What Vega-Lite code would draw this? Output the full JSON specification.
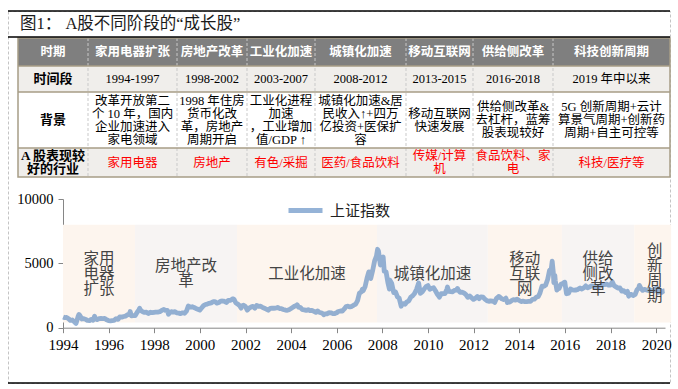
{
"$schema": "https://vega.github.io/schema/vega-lite/v6.json",
"width": 662, "height": 372,
"autosize": "none",
"padding": {"left": 8, "top": 11, "right": 8, "bottom": 6},
"background": "white",
"config": {"view": {"stroke": "#c4c4c4", "strokeDash": [3, 2], "strokeWidth": 1}, "font": "Liberation Serif, Noto Sans CJK SC"},
"datasets": {
"cells": [
{"r":0,"c":0,"t":"时期"},{"r":0,"c":1,"t":"家用电器扩张"},{"r":0,"c":2,"t":"房地产改革"},{"r":0,"c":3,"t":"工业化加速"},{"r":0,"c":4,"t":"城镇化加速"},{"r":0,"c":5,"t":"移动互联网"},{"r":0,"c":6,"t":"供给侧改革"},{"r":0,"c":7,"t":"科技创新周期"},
{"r":1,"c":0,"t":"时间段"},{"r":1,"c":1,"t":"1994-1997"},{"r":1,"c":2,"t":"1998-2002"},{"r":1,"c":3,"t":"2003-2007"},{"r":1,"c":4,"t":"2008-2012"},{"r":1,"c":5,"t":"2013-2015"},{"r":1,"c":6,"t":"2016-2018"},{"r":1,"c":7,"t":"2019 年中以来"},
{"r":2,"c":0,"t":"背景"},
{"r":2,"c":1,"t":["改革开放第二","个 10 年，国内","企业加速进入","家电领域"]},
{"r":2,"c":2,"t":["1998 年住房","货币化改","革，房地产","周期开启"]},
{"r":2,"c":3,"t":["工业化进程","加速","，工业增加","值/GDP ↑"]},
{"r":2,"c":4,"t":["城镇化加速&居","民收入↑+四万","亿投资+医保扩","容"]},
{"r":2,"c":5,"t":["移动互联网","快速发展"]},
{"r":2,"c":6,"t":["供给侧改革&","去杠杆，蓝筹","股表现较好"]},
{"r":2,"c":7,"t":["5G 创新周期+云计","算景气周期+创新药","周期+自主可控等"]},
{"r":3,"c":0,"t":["A 股表现较","好的行业"]},{"r":3,"c":1,"t":"家用电器"},{"r":3,"c":2,"t":"房地产"},{"r":3,"c":3,"t":"有色/采掘"},{"r":3,"c":4,"t":"医药/食品饮料"},{"r":3,"c":5,"t":["传媒/计算","机"]},{"r":3,"c":6,"t":["食品饮料、家","电"]},{"r":3,"c":7,"t":"科技/医疗等"}
],
"phases": [
{"phase":"家用电器扩张","start":"1994-01-01","end":"1997-02-28","label_date":"1995-07-31","label":["家用","电器","扩张"]},
{"phase":"房地产改革","start":"1997-02-28","end":"2001-08-18","label_date":"1999-05-25","label":["房地产改","革"]},
{"phase":"工业化加速","start":"2001-08-18","end":"2007-10-08","label_date":"2004-09-12","label":"工业化加速"},
{"phase":"城镇化加速","start":"2007-10-08","end":"2012-08-15","label_date":"2010-03-12","label":"城镇化加速"},
{"phase":"移动互联网","start":"2012-08-15","end":"2015-11-15","label_date":"2014-03-31","label":["移动","互联","网"]},
{"phase":"供给侧改革","start":"2015-11-15","end":"2019-01-15","label_date":"2017-06-15","label":["供给","侧改","革"]},
{"phase":"创新周期","start":"2019-01-15","end":"2020-08-28","label_date":"2019-12-10","label":["创","新","周","期"]}
],
"sse": [
{"date":"1994-01-03","close":833},{"date":"1994-01-31","close":778},{"date":"1994-02-28","close":792},{"date":"1994-03-31","close":694},{"date":"1994-04-29","close":568},{"date":"1994-05-31","close":597},{"date":"1994-06-30","close":468},{"date":"1994-07-29","close":333},{"date":"1994-08-31","close":872},{"date":"1994-09-13","close":1033},{"date":"1994-09-30","close":940},{"date":"1994-10-31","close":677},{"date":"1994-11-30","close":705},{"date":"1994-12-30","close":648},
{"date":"1995-01-27","close":562},{"date":"1995-02-28","close":550},{"date":"1995-03-31","close":647},{"date":"1995-04-28","close":581},{"date":"1995-05-22","close":897},{"date":"1995-05-31","close":700},{"date":"1995-06-30","close":630},{"date":"1995-07-31","close":710},{"date":"1995-08-31","close":716},{"date":"1995-09-29","close":704},{"date":"1995-10-31","close":716},{"date":"1995-11-30","close":613},{"date":"1995-12-29","close":555},
{"date":"1996-01-31","close":537},{"date":"1996-02-29","close":553},{"date":"1996-03-29","close":570},{"date":"1996-04-30","close":697},{"date":"1996-05-31","close":644},{"date":"1996-06-28","close":846},{"date":"1996-07-31","close":820},{"date":"1996-08-30","close":868},{"date":"1996-09-30","close":905},{"date":"1996-10-31","close":1011},{"date":"1996-11-29","close":1029},{"date":"1996-12-11","close":1258},{"date":"1996-12-31","close":917},
{"date":"1997-01-31","close":935},{"date":"1997-02-28","close":936},{"date":"1997-03-31","close":1184},{"date":"1997-04-30","close":1381},{"date":"1997-05-12","close":1510},{"date":"1997-05-30","close":1341},{"date":"1997-06-30","close":1245},{"date":"1997-07-31","close":1186},{"date":"1997-08-29","close":1204},{"date":"1997-09-30","close":1097},{"date":"1997-10-31","close":1200},{"date":"1997-11-28","close":1166},{"date":"1997-12-31","close":1194},
{"date":"1998-01-23","close":1209},{"date":"1998-02-27","close":1215},{"date":"1998-03-31","close":1245},{"date":"1998-04-30","close":1343},{"date":"1998-05-29","close":1411},{"date":"1998-06-04","close":1422},{"date":"1998-06-30","close":1339},{"date":"1998-07-31","close":1336},{"date":"1998-08-17","close":1043},{"date":"1998-08-31","close":1150},{"date":"1998-09-30","close":1243},{"date":"1998-10-30","close":1217},{"date":"1998-11-30","close":1248},{"date":"1998-12-31","close":1147},
{"date":"1999-01-29","close":1134},{"date":"1999-02-26","close":1091},{"date":"1999-03-31","close":1159},{"date":"1999-04-30","close":1120},{"date":"1999-05-31","close":1280},{"date":"1999-06-30","close":1690},{"date":"1999-07-30","close":1601},{"date":"1999-08-31","close":1627},{"date":"1999-09-30","close":1568},{"date":"1999-10-29","close":1498},{"date":"1999-11-30","close":1432},{"date":"1999-12-30","close":1367},
{"date":"2000-01-28","close":1535},{"date":"2000-02-29","close":1714},{"date":"2000-03-31","close":1800},{"date":"2000-04-28","close":1836},{"date":"2000-05-31","close":1895},{"date":"2000-06-30","close":1928},{"date":"2000-07-31","close":2023},{"date":"2000-08-31","close":2022},{"date":"2000-09-29","close":1911},{"date":"2000-10-31","close":1961},{"date":"2000-11-30","close":2071},{"date":"2000-12-29","close":2073},
{"date":"2001-01-19","close":2066},{"date":"2001-02-28","close":1960},{"date":"2001-03-30","close":2113},{"date":"2001-04-30","close":2120},{"date":"2001-05-31","close":2215},{"date":"2001-06-14","close":2245},{"date":"2001-06-29","close":2219},{"date":"2001-07-31","close":1920},{"date":"2001-08-31","close":1834},{"date":"2001-09-28","close":1717},{"date":"2001-10-22","close":1520},{"date":"2001-10-31","close":1690},{"date":"2001-11-30","close":1750},{"date":"2001-12-31","close":1646},
{"date":"2002-01-29","close":1360},{"date":"2002-02-28","close":1525},{"date":"2002-03-29","close":1603},{"date":"2002-04-30","close":1660},{"date":"2002-05-31","close":1515},{"date":"2002-06-28","close":1733},{"date":"2002-07-31","close":1651},{"date":"2002-08-30","close":1670},{"date":"2002-09-27","close":1581},{"date":"2002-10-31","close":1507},{"date":"2002-11-29","close":1442},{"date":"2002-12-31","close":1358},
{"date":"2003-01-30","close":1500},{"date":"2003-02-28","close":1512},{"date":"2003-03-31","close":1510},{"date":"2003-04-30","close":1521},{"date":"2003-05-30","close":1577},{"date":"2003-06-30","close":1487},{"date":"2003-07-31","close":1477},{"date":"2003-08-29","close":1421},{"date":"2003-09-30","close":1368},{"date":"2003-10-31","close":1349},{"date":"2003-11-28","close":1397},{"date":"2003-12-31","close":1497},
{"date":"2004-01-30","close":1590},{"date":"2004-02-27","close":1676},{"date":"2004-03-31","close":1742},{"date":"2004-04-07","close":1783},{"date":"2004-04-30","close":1595},{"date":"2004-05-31","close":1555},{"date":"2004-06-30","close":1399},{"date":"2004-07-30","close":1386},{"date":"2004-08-31","close":1342},{"date":"2004-09-30","close":1396},{"date":"2004-10-29","close":1320},{"date":"2004-11-30","close":1340},{"date":"2004-12-31","close":1267},
{"date":"2005-01-31","close":1191},{"date":"2005-02-28","close":1306},{"date":"2005-03-31","close":1181},{"date":"2005-04-29","close":1159},{"date":"2005-05-31","close":1061},{"date":"2005-06-06","close":998},{"date":"2005-06-30","close":1081},{"date":"2005-07-29","close":1083},{"date":"2005-08-31","close":1163},{"date":"2005-09-30","close":1155},{"date":"2005-10-31","close":1092},{"date":"2005-11-30","close":1100},{"date":"2005-12-30","close":1161},
{"date":"2006-01-25","close":1258},{"date":"2006-02-28","close":1299},{"date":"2006-03-31","close":1299},{"date":"2006-04-28","close":1441},{"date":"2006-05-31","close":1642},{"date":"2006-06-30","close":1672},{"date":"2006-07-31","close":1612},{"date":"2006-08-31","close":1658},{"date":"2006-09-29","close":1753},{"date":"2006-10-31","close":1838},{"date":"2006-11-30","close":2099},{"date":"2006-12-29","close":2675},
{"date":"2007-01-31","close":2786},{"date":"2007-02-16","close":2998},{"date":"2007-02-28","close":2881},{"date":"2007-03-30","close":3184},{"date":"2007-04-30","close":3841},{"date":"2007-05-29","close":4335},{"date":"2007-05-31","close":4110},{"date":"2007-06-29","close":3821},{"date":"2007-07-31","close":4472},{"date":"2007-08-31","close":5219},{"date":"2007-09-28","close":5553},{"date":"2007-10-16","close":6092},{"date":"2007-10-31","close":5955},{"date":"2007-11-30","close":4871},{"date":"2007-12-28","close":5262},
{"date":"2008-01-14","close":5497},{"date":"2008-01-31","close":4383},{"date":"2008-02-29","close":4348},{"date":"2008-03-31","close":3473},{"date":"2008-04-22","close":3000},{"date":"2008-04-30","close":3693},{"date":"2008-05-30","close":3433},{"date":"2008-06-30","close":2736},{"date":"2008-07-31","close":2776},{"date":"2008-08-29","close":2397},{"date":"2008-09-26","close":2294},{"date":"2008-10-28","close":1665},{"date":"2008-10-31","close":1729},{"date":"2008-11-28","close":1871},{"date":"2008-12-31","close":1821},
{"date":"2009-01-23","close":1991},{"date":"2009-02-27","close":2082},{"date":"2009-03-31","close":2373},{"date":"2009-04-30","close":2477},{"date":"2009-05-27","close":2633},{"date":"2009-06-30","close":2959},{"date":"2009-07-31","close":3412},{"date":"2009-08-04","close":3471},{"date":"2009-08-31","close":2667},{"date":"2009-09-30","close":2779},{"date":"2009-10-30","close":2996},{"date":"2009-11-30","close":3195},{"date":"2009-12-31","close":3277},
{"date":"2010-01-29","close":2989},{"date":"2010-02-26","close":3051},{"date":"2010-03-31","close":3110},{"date":"2010-04-30","close":2871},{"date":"2010-05-31","close":2592},{"date":"2010-06-30","close":2398},{"date":"2010-07-02","close":2373},{"date":"2010-07-30","close":2638},{"date":"2010-08-31","close":2639},{"date":"2010-09-30","close":2656},{"date":"2010-10-29","close":2979},{"date":"2010-11-08","close":3159},{"date":"2010-11-30","close":2820},{"date":"2010-12-31","close":2808},
{"date":"2011-01-31","close":2791},{"date":"2011-02-28","close":2905},{"date":"2011-03-31","close":2928},{"date":"2011-04-18","close":3050},{"date":"2011-04-29","close":2911},{"date":"2011-05-31","close":2743},{"date":"2011-06-30","close":2762},{"date":"2011-07-29","close":2701},{"date":"2011-08-31","close":2568},{"date":"2011-09-30","close":2359},{"date":"2011-10-31","close":2468},{"date":"2011-11-30","close":2333},{"date":"2011-12-30","close":2199},
{"date":"2012-01-31","close":2292},{"date":"2012-02-29","close":2428},{"date":"2012-03-30","close":2262},{"date":"2012-04-27","close":2397},{"date":"2012-05-31","close":2373},{"date":"2012-06-29","close":2225},{"date":"2012-07-31","close":2103},{"date":"2012-08-31","close":2047},{"date":"2012-09-28","close":2086},{"date":"2012-10-31","close":2069},{"date":"2012-11-30","close":1980},{"date":"2012-12-03","close":1959},{"date":"2012-12-31","close":2269},
{"date":"2013-01-31","close":2385},{"date":"2013-02-06","close":2432},{"date":"2013-02-28","close":2366},{"date":"2013-03-29","close":2237},{"date":"2013-04-26","close":2178},{"date":"2013-05-31","close":2301},{"date":"2013-06-25","close":1950},{"date":"2013-06-28","close":1979},{"date":"2013-07-31","close":1994},{"date":"2013-08-30","close":2098},{"date":"2013-09-30","close":2175},{"date":"2013-10-31","close":2141},{"date":"2013-11-29","close":2220},{"date":"2013-12-31","close":2116},
{"date":"2014-01-30","close":2033},{"date":"2014-02-28","close":2056},{"date":"2014-03-31","close":2033},{"date":"2014-04-30","close":2026},{"date":"2014-05-30","close":2039},{"date":"2014-06-30","close":2048},{"date":"2014-07-31","close":2202},{"date":"2014-08-29","close":2217},{"date":"2014-09-30","close":2364},{"date":"2014-10-31","close":2420},{"date":"2014-11-28","close":2683},{"date":"2014-12-31","close":3235},
{"date":"2015-01-30","close":3210},{"date":"2015-02-27","close":3310},{"date":"2015-03-31","close":3748},{"date":"2015-04-30","close":4442},{"date":"2015-05-29","close":4612},{"date":"2015-06-12","close":5166},{"date":"2015-06-30","close":4277},{"date":"2015-07-08","close":3507},{"date":"2015-07-24","close":4070},{"date":"2015-07-31","close":3664},{"date":"2015-08-26","close":2927},{"date":"2015-08-31","close":3206},{"date":"2015-09-30","close":3053},{"date":"2015-10-30","close":3383},{"date":"2015-11-30","close":3446},{"date":"2015-12-31","close":3539},
{"date":"2016-01-27","close":2638},{"date":"2016-02-29","close":2688},{"date":"2016-03-31","close":3004},{"date":"2016-04-29","close":2938},{"date":"2016-05-31","close":2917},{"date":"2016-06-30","close":2930},{"date":"2016-07-29","close":2979},{"date":"2016-08-31","close":3085},{"date":"2016-09-30","close":3005},{"date":"2016-10-31","close":3100},{"date":"2016-11-30","close":3250},{"date":"2016-12-30","close":3104},
{"date":"2017-01-26","close":3159},{"date":"2017-02-28","close":3242},{"date":"2017-03-31","close":3223},{"date":"2017-04-28","close":3155},{"date":"2017-05-31","close":3117},{"date":"2017-06-30","close":3192},{"date":"2017-07-31","close":3273},{"date":"2017-08-31","close":3361},{"date":"2017-09-29","close":3349},{"date":"2017-10-31","close":3393},{"date":"2017-11-30","close":3317},{"date":"2017-12-29","close":3307},
{"date":"2018-01-29","close":3559},{"date":"2018-02-28","close":3259},{"date":"2018-03-30","close":3169},{"date":"2018-04-27","close":3082},{"date":"2018-05-31","close":3095},{"date":"2018-06-29","close":2847},{"date":"2018-07-31","close":2876},{"date":"2018-08-31","close":2725},{"date":"2018-09-28","close":2821},{"date":"2018-10-19","close":2449},{"date":"2018-10-31","close":2603},{"date":"2018-11-30","close":2588},{"date":"2018-12-28","close":2494},
{"date":"2019-01-31","close":2585},{"date":"2019-02-28","close":2941},{"date":"2019-03-29","close":3091},{"date":"2019-04-08","close":3288},{"date":"2019-04-30","close":3078},{"date":"2019-05-31","close":2899},{"date":"2019-06-28","close":2979},{"date":"2019-07-31","close":2933},{"date":"2019-08-30","close":2886},{"date":"2019-09-30","close":2905},{"date":"2019-10-31","close":2929},{"date":"2019-11-29","close":2872},{"date":"2019-12-31","close":3050},
{"date":"2020-01-14","close":3107},{"date":"2020-02-03","close":2746},{"date":"2020-02-28","close":2880},{"date":"2020-03-31","close":2750},{"date":"2020-04-30","close":2860},{"date":"2020-05-15","close":2868}
]
},
"resolve": {"scale": {"x": "independent", "y": "independent"}},
"layer": [
{
"layer": [
{"data": {"values": [{}]}, "mark": {"type": "rect", "fill": "#7f7f7f"},
 "encoding": {"x": {"datum": 0, "type": "quantitative", "axis": null, "scale": {"type": "linear", "domain": [-1,0,1,2,3,4,5,6,7,8], "range": [0,10,80,169,239,307,398,465,545,662], "nice": false, "zero": false}}, "x2": {"datum": 8},
  "y": {"datum": 0, "type": "quantitative", "axis": null, "scale": {"type": "linear", "domain": [-2,-1,0,1,2,3,4,5], "range": [0,26,27,55,81,137,166,372], "nice": false, "zero": false}}, "y2": {"datum": 1}}},
{"data": {"values": [{}]}, "mark": {"type": "rect", "fill": "#f0eeeb"},
 "encoding": {"x": {"datum": 0, "type": "quantitative", "axis": null}, "x2": {"datum": 8}, "y": {"datum": 1, "type": "quantitative", "axis": null}, "y2": {"datum": 2}}},
{"data": {"values": [{}]}, "mark": {"type": "rect", "fill": "#f0eeeb"},
 "encoding": {"x": {"datum": 0, "type": "quantitative", "axis": null}, "x2": {"datum": 8}, "y": {"datum": 3, "type": "quantitative", "axis": null}, "y2": {"datum": 4}}},
{"data": {"values": [{"sep":1},{"sep":2},{"sep":3},{"sep":4},{"sep":5},{"sep":6},{"sep":7}]}, "mark": {"type": "rule", "stroke": "#c9c9c9", "strokeDash": [3, 2], "strokeWidth": 1},
 "encoding": {"x": {"field": "sep", "type": "quantitative", "axis": null}, "y": {"datum": 0, "type": "quantitative", "axis": null}, "y2": {"datum": 4}}},
{"data": {"values": [{"line":1},{"line":2},{"line":3}]}, "mark": {"type": "rule", "stroke": "#a79d86", "strokeWidth": 1.5},
 "encoding": {"y": {"field": "line", "type": "quantitative", "axis": null}, "x": {"datum": 0, "type": "quantitative", "axis": null}, "x2": {"datum": 8}}},
{"data": {"values": [{}]}, "mark": {"type": "rect", "fillOpacity": 0, "stroke": "#a79d86", "strokeWidth": 1.5},
 "encoding": {"x": {"datum": 0, "type": "quantitative", "axis": null}, "x2": {"datum": 8}, "y": {"datum": 0, "type": "quantitative", "axis": null}, "y2": {"datum": 4}}},
{"data": {"values": [{"edge":-2},{"edge":-1},{"edge":5}]}, "mark": {"type": "rule", "stroke": "#000000", "strokeWidth": 1.3},
 "encoding": {"y": {"field": "edge", "type": "quantitative", "axis": null}, "x": {"datum": -1, "type": "quantitative", "axis": null}, "x2": {"datum": 8}}}
]
},
{
"data": {"name": "cells"},
"layer": [
{"transform": [{"filter": "datum.r == 0"}], "mark": {"type": "text", "fill": "#ffffff", "fontWeight": "bold", "fontSize": 12.5, "baseline": "middle", "align": "center", "lineHeight": 13},
 "encoding": {"x": {"field": "c", "type": "quantitative", "axis": null, "scale": {"type": "linear", "domain": [-1,0,1,2,3,4,5,6,7], "range": [12,45,124.5,204,273,352.5,431.5,505,603.5], "nice": false, "zero": false}},
  "y": {"field": "r", "type": "quantitative", "axis": null, "scale": {"type": "linear", "domain": [-1,0,1,2,3], "range": [13,41,68,109,151.5], "nice": false, "zero": false}},
  "text": {"field": "t", "type": "nominal"}}},
{"transform": [{"filter": "datum.r > 0 && datum.c == 0 && !isArray(datum.t)"}], "mark": {"type": "text", "fill": "#000000", "fontWeight": "bold", "fontSize": 13, "baseline": "middle", "align": "center", "lineHeight": 13},
 "encoding": {"x": {"field": "c", "type": "quantitative", "axis": null}, "y": {"field": "r", "type": "quantitative", "axis": null}, "text": {"field": "t", "type": "nominal"}}},
{"transform": [{"filter": "datum.r > 0 && datum.c == 0 && isArray(datum.t)"}], "mark": {"type": "text", "fill": "#000000", "fontWeight": "bold", "fontSize": 13, "baseline": "middle", "align": "center", "lineHeight": 13, "dy": -6.5},
 "encoding": {"x": {"field": "c", "type": "quantitative", "axis": null}, "y": {"field": "r", "type": "quantitative", "axis": null}, "text": {"field": "t", "type": "nominal"}}},
{"transform": [{"filter": "datum.r == 1 && datum.c > 0"}], "mark": {"type": "text", "fill": "#000000", "fontSize": 12.5, "baseline": "middle", "align": "center", "lineHeight": 13},
 "encoding": {"x": {"field": "c", "type": "quantitative", "axis": null}, "y": {"field": "r", "type": "quantitative", "axis": null}, "text": {"field": "t", "type": "nominal"}}},
{"transform": [{"filter": "datum.r == 2 && datum.c > 0 && isArray(datum.t) && length(datum.t) == 2"}], "mark": {"type": "text", "fill": "#000000", "fontSize": 12.5, "baseline": "middle", "align": "center", "lineHeight": 13, "dy": -6.5},
 "encoding": {"x": {"field": "c", "type": "quantitative", "axis": null}, "y": {"field": "r", "type": "quantitative", "axis": null}, "text": {"field": "t", "type": "nominal"}}},
{"transform": [{"filter": "datum.r == 2 && datum.c > 0 && isArray(datum.t) && length(datum.t) == 3"}], "mark": {"type": "text", "fill": "#000000", "fontSize": 12.5, "baseline": "middle", "align": "center", "lineHeight": 13, "dy": -13},
 "encoding": {"x": {"field": "c", "type": "quantitative", "axis": null}, "y": {"field": "r", "type": "quantitative", "axis": null}, "text": {"field": "t", "type": "nominal"}}},
{"transform": [{"filter": "datum.r == 2 && datum.c > 0 && isArray(datum.t) && length(datum.t) == 4"}], "mark": {"type": "text", "fill": "#000000", "fontSize": 12.5, "baseline": "middle", "align": "center", "lineHeight": 13, "dy": -19.5},
 "encoding": {"x": {"field": "c", "type": "quantitative", "axis": null}, "y": {"field": "r", "type": "quantitative", "axis": null}, "text": {"field": "t", "type": "nominal"}}},
{"transform": [{"filter": "datum.r == 3 && datum.c > 0 && !isArray(datum.t)"}], "mark": {"type": "text", "fill": "#ff0000", "fontSize": 12.5, "baseline": "middle", "align": "center", "lineHeight": 13},
 "encoding": {"x": {"field": "c", "type": "quantitative", "axis": null}, "y": {"field": "r", "type": "quantitative", "axis": null}, "text": {"field": "t", "type": "nominal"}}},
{"transform": [{"filter": "datum.r == 3 && datum.c > 0 && isArray(datum.t)"}], "mark": {"type": "text", "fill": "#ff0000", "fontSize": 12.5, "baseline": "middle", "align": "center", "lineHeight": 13, "dy": -6.5},
 "encoding": {"x": {"field": "c", "type": "quantitative", "axis": null}, "y": {"field": "r", "type": "quantitative", "axis": null}, "text": {"field": "t", "type": "nominal"}}},
{"data": {"values": [{"title": "图1：  A股不同阶段的“成长股”"}]}, "mark": {"type": "text", "fill": "#1a1a1a", "fontSize": 16.5, "baseline": "middle", "align": "left"},
 "encoding": {"x": {"datum": -1, "type": "quantitative", "axis": null}, "y": {"datum": -1, "type": "quantitative", "axis": null}, "text": {"field": "title", "type": "nominal"}}}
]
},
{
"layer": [
{"data": {"name": "phases"}, "mark": {"type": "rect"},
 "encoding": {
  "x": {"field": "start", "type": "temporal", "scale": {"domain": [{"year": 1994, "month": 1, "date": 1}, {"year": 2020, "month": 5, "date": 22}], "range": [55, 657], "nice": false},
   "axis": {"values": [{"year":1994,"month":1,"date":1},{"year":1996,"month":1,"date":1},{"year":1998,"month":1,"date":1},{"year":2000,"month":1,"date":1},{"year":2002,"month":1,"date":1},{"year":2004,"month":1,"date":1},{"year":2006,"month":1,"date":1},{"year":2008,"month":1,"date":1},{"year":2010,"month":1,"date":1},{"year":2012,"month":1,"date":1},{"year":2014,"month":1,"date":1},{"year":2016,"month":1,"date":1},{"year":2018,"month":1,"date":1},{"year":2020,"month":1,"date":1}],
    "format": "%Y", "offset": -55.3, "title": null, "grid": false, "tickSize": 5, "tickColor": "#868686", "domainColor": "#868686", "labelFont": "Liberation Serif", "labelFontSize": 15, "labelColor": "#000000", "labelPadding": 5, "labelOverlap": false, "labelFlush": false}},
  "x2": {"field": "end"},
  "y": {"datum": 400, "type": "quantitative", "scale": {"domain": [0, 10000], "range": [316.7, 188], "nice": false, "zero": false},
   "axis": {"values": [0, 5000, 10000], "format": "d", "offset": -55, "title": null, "grid": false, "tickSize": 5, "tickColor": "#868686", "domainColor": "#868686", "labelFont": "Liberation Serif", "labelFontSize": 14.5, "labelColor": "#000000", "labelPadding": 5}},
  "y2": {"datum": 8000},
  "fill": {"field": "phase", "type": "nominal", "legend": null, "scale": {"domain": ["家用电器扩张","房地产改革","工业化加速","城镇化加速","移动互联网","供给侧改革","创新周期"], "range": ["#fdf5ee","#f7f4f3","#fdf5ee","#f7f4f3","#fdf5ee","#f7f4f3","#fdf5ee"]}}
 }},
{"data": {"name": "sse"}, "mark": {"type": "line", "strokeWidth": 4.8, "opacity": 0.6, "strokeJoin": "round"},
 "encoding": {"x": {"field": "date", "type": "temporal"}, "y": {"field": "close", "type": "quantitative"},
  "color": {"datum": "上证指数", "scale": {"range": ["#4f81bd"]},
   "legend": {"orient": "none", "legendX": 278, "legendY": 180, "title": null, "symbolType": "stroke", "symbolSize": 1156, "symbolStrokeWidth": 5, "labelFont": "Noto Sans CJK SC", "labelFontSize": 15, "labelColor": "#222222", "labelOffset": 5,
    "encode": {"symbols": {"update": {"opacity": {"value": 1}, "strokeWidth": {"value": 5}}}}}}}},
{"data": {"name": "phases"}, "transform": [{"filter": "!isArray(datum.label)"}], "mark": {"type": "text", "fill": "#444444", "fontSize": 15.5, "lineHeight": 15, "baseline": "middle", "align": "center", "font": "Noto Sans CJK SC"},
 "encoding": {"x": {"field": "label_date", "type": "temporal"}, "y": {"datum": 4200, "type": "quantitative"}, "text": {"field": "label", "type": "nominal"}}},
{"data": {"name": "phases"}, "transform": [{"filter": "isArray(datum.label) && length(datum.label) == 2"}], "mark": {"type": "text", "fill": "#444444", "fontSize": 15.5, "lineHeight": 15, "baseline": "middle", "align": "center", "font": "Noto Sans CJK SC", "dy": -7.5},
 "encoding": {"x": {"field": "label_date", "type": "temporal"}, "y": {"datum": 4200, "type": "quantitative"}, "text": {"field": "label", "type": "nominal"}}},
{"data": {"name": "phases"}, "transform": [{"filter": "isArray(datum.label) && length(datum.label) == 3"}], "mark": {"type": "text", "fill": "#444444", "fontSize": 15.5, "lineHeight": 15, "baseline": "middle", "align": "center", "font": "Noto Sans CJK SC", "dy": -15},
 "encoding": {"x": {"field": "label_date", "type": "temporal"}, "y": {"datum": 4200, "type": "quantitative"}, "text": {"field": "label", "type": "nominal"}}},
{"data": {"name": "phases"}, "transform": [{"filter": "isArray(datum.label) && length(datum.label) == 4"}], "mark": {"type": "text", "fill": "#444444", "fontSize": 15.5, "lineHeight": 15, "baseline": "middle", "align": "center", "font": "Noto Sans CJK SC", "dy": -22.5},
 "encoding": {"x": {"field": "label_date", "type": "temporal"}, "y": {"datum": 4200, "type": "quantitative"}, "text": {"field": "label", "type": "nominal"}}}
]
}
]
}
